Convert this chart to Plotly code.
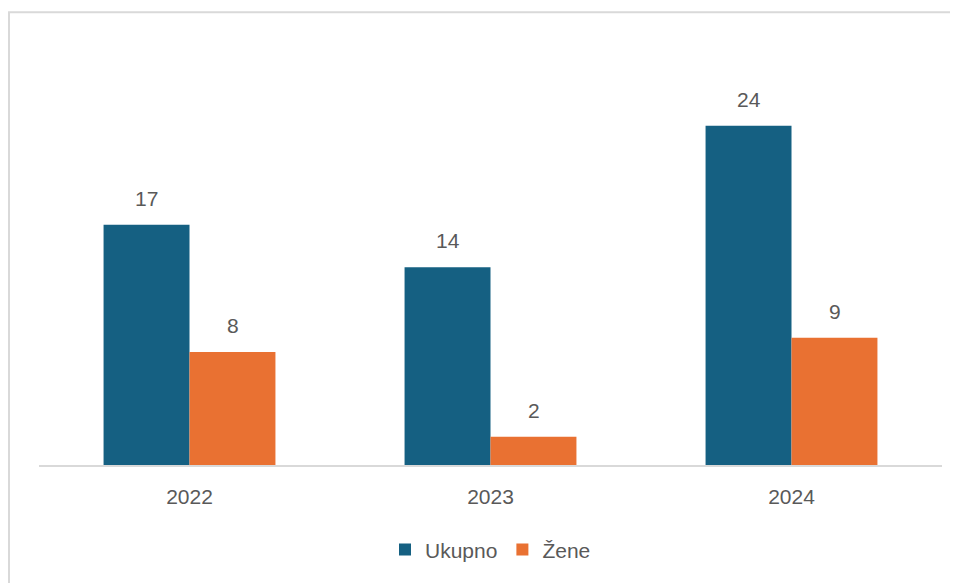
import plotly.graph_objects as go

categories = ["2022", "2023", "2024"]
ukupno = [17, 14, 24]
zene = [8, 2, 9]
series_names = ["Ukupno", "Žene"]

BLUE = "#156082"
ORANGE = "#E97132"
TXT = "#595959"
FONT = "Liberation Sans"

fig = go.Figure()
fig.add_trace(go.Bar(x=categories, y=ukupno, name=series_names[0], marker=dict(color=BLUE, line=dict(width=0))))
fig.add_trace(go.Bar(x=categories, y=zene, name=series_names[1], marker=dict(color=ORANGE, line=dict(width=0))))

annotations = []
for vals, shift in ((ukupno, -43), (zene, 43)):
    for i, v in enumerate(vals):
        annotations.append(dict(x=i, y=v, xref="x", yref="y", text=str(v), showarrow=False,
                                xshift=shift, yshift=13, yanchor="bottom",
                                font=dict(family=FONT, size=21, color=TXT)))

# page body has an 8px default margin, so figure is sized/offset to compensate
fig.update_layout(
    width=950, height=575,
    margin=dict(l=31, r=16, t=33, b=118),
    paper_bgcolor="white", plot_bgcolor="white",
    barmode="group", bargap=0.429, bargroupgap=0,
    font=dict(family=FONT, size=21, color=TXT),
    xaxis=dict(type="category", range=[-0.5, 2.5], showline=True, linecolor="#D9D9D9", linewidth=2,
               ticks="", showgrid=False,
               tickfont=dict(family=FONT, size=21, color=TXT), ticklabelstandoff=12),
    yaxis=dict(range=[0, 30], visible=False, showgrid=False),
    legend=dict(orientation="h", x=0.5, xanchor="center", y=-0.2, yanchor="middle",
                font=dict(family=FONT, size=21, color=TXT), itemwidth=30, traceorder="normal"),
    annotations=annotations,
    shapes=[dict(type="rect", xref="paper", yref="paper", x0=-0.0332, x1=1.1, y0=-0.5, y1=1.068,
                 line=dict(color="#D9D9D9", width=2), fillcolor="rgba(0,0,0,0)", layer="below")],
    showlegend=True,
)

fig.write_html("out.html")
